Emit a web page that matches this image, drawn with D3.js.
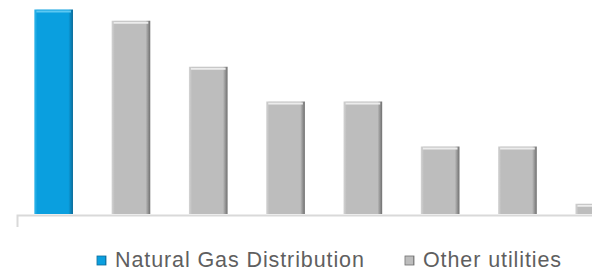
<!DOCTYPE html>
<html lang="en">
<head>
    <meta charset="UTF-8">
    <title>Natural Gas Distribution vs Other utilities</title>
    <script src="https://d3js.org/d3.v7.min.js"></script>
    <style>
        body {
            margin: 0;
            background: #fff;
        }
        .legend text {
            font-family: "Liberation Sans", Arial, sans-serif;
            font-size: 21.5px;
            letter-spacing: 0.9px;
            fill: #5f5f5f;
        }
        .axis path {
            stroke: #d9d9d9;
            stroke-width: 2;
        }
    </style>
</head>
<body>
<script>
    // values (no axis labels in the original)
    var categories = ["1", "2", "3", "4", "5", "6", "7", "8"];
    var values = [10, 9.45, 7.2, 5.5, 5.5, 3.3, 3.3, 0.5];
    var groups = ["Natural Gas Distribution", "Other utilities", "Other utilities", "Other utilities",
                  "Other utilities", "Other utilities", "Other utilities", "Other utilities"];
    var legendLabels = ["Natural Gas Distribution", "Other utilities"];

    var width = 592;
    var height = 276;
    var baseline = 214;

    var colors = {
        "Natural Gas Distribution": {main: "#0a9fdf", light: "#34b6ea", dark: "#0a6a98"},
        "Other utilities": {main: "#bdbdbd", light: "#d4d4d4", dark: "#6e6e6e"}
    };

    var svg = d3.select("body").append("svg")
            .attr("width", width)
            .attr("height", height);

    var x = d3.scaleBand()
            .domain(categories)
            .range([15, 15 + 8 * 77.3])
            .paddingInner(0.5)
            .paddingOuter(0.25);
    var y = d3.scaleLinear()
            .domain([0, 10])
            .range([baseline, 9.5]);

    var defs = svg.append("defs");
    legendLabels.forEach(function (g, i) {
        var c = colors[g];
        var grad = defs.append("linearGradient")
                .attr("id", "grad-" + i)
                .attr("x1", 0).attr("x2", 1).attr("y1", 0).attr("y2", 0);
        grad.append("stop").attr("offset", "0%").attr("stop-color", c.light);
        grad.append("stop").attr("offset", "8%").attr("stop-color", c.main);
        grad.append("stop").attr("offset", "88%").attr("stop-color", c.main);
        grad.append("stop").attr("offset", "100%").attr("stop-color", c.dark);
    });

    var axis = d3.axisBottom(x)
            .tickSize(0)
            .tickSizeOuter(12)
            .tickFormat("");
    svg.append("g")
            .attr("class", "axis")
            .attr("transform", "translate(2," + (baseline + 1) + ")")
            .call(axis)
            .selectAll(".tick").remove();

    var bars = svg.selectAll(".bar")
            .data(values)
            .enter()
            .append("g")
            .attr("class", "bar");

    bars.append("rect")
            .attr("x", function (d, i) { return x(categories[i]); })
            .attr("y", function (d) { return y(d); })
            .attr("width", x.bandwidth())
            .attr("height", function (d) { return baseline - y(d); })
            .attr("fill", function (d, i) {
                return "url(#grad-" + legendLabels.indexOf(groups[i]) + ")";
            });

    // light highlight on the top of each bar
    bars.append("rect")
            .attr("x", function (d, i) { return x(categories[i]) + 2; })
            .attr("y", function (d) { return y(d) + 1; })
            .attr("width", x.bandwidth() - 4)
            .attr("height", 2)
            .attr("fill", function (d, i) {
                return groups[i] === legendLabels[0] ? "#5cc8f2" : "#ececec";
            });

    var legendX = [97, 405];
    var legend = svg.append("g").attr("class", "legend");
    var items = legend.selectAll("g")
            .data(legendLabels)
            .enter()
            .append("g")
            .attr("transform", function (d, i) { return "translate(" + legendX[i] + ",256)"; });
    items.append("rect")
            .attr("width", 9)
            .attr("height", 9)
            .attr("fill", function (d, i) { return "url(#grad-" + i + ")"; })
            .attr("stroke", function (d) { return colors[d].dark; })
            .attr("stroke-width", 0.8);
    items.append("text")
            .attr("x", 18)
            .attr("y", 11)
            .text(function (d) { return d; });
</script>
</body>
</html>
